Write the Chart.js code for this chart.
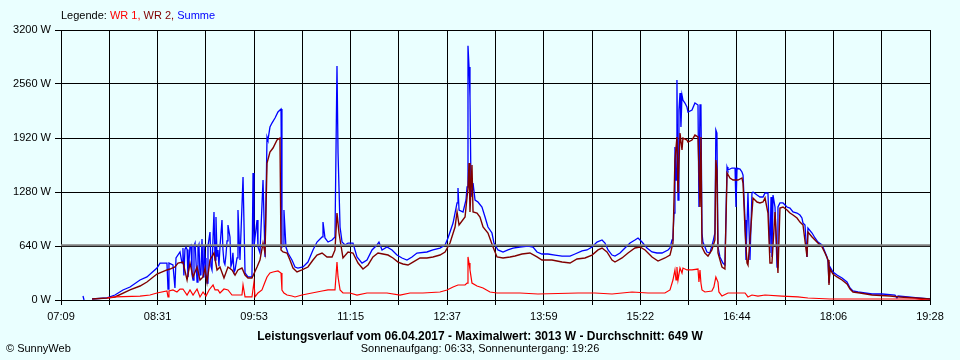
<!DOCTYPE html>
<html><head><meta charset="utf-8">
<script src="https://cdn.jsdelivr.net/npm/chart.js@4"></script>
<style>
html,body{margin:0;padding:0;background:#eaffff;}
#wrap{position:relative;width:960px;height:360px;background:#eaffff;font-family:"Liberation Sans",Arial,sans-serif;font-size:11px;color:#000;overflow:hidden;}
canvas{position:absolute;left:0;top:0;}
.t{position:absolute;white-space:nowrap;line-height:11px;}
</style></head><body>
<div id="wrap">
<canvas id="c" width="960" height="360"></canvas>
<div class="t" style="left:61px;top:10px;">Legende: <span style="color:#ff0000">WR 1,</span> <span style="color:#800000">WR 2,</span> <span style="color:#0000ff">Summe</span></div>
<div class="t" style="left:0;width:960px;text-align:center;top:330px;font-weight:bold;font-size:12px;line-height:12px;">Leistungsverlauf vom 06.04.2017 - Maximalwert: 3013 W - Durchschnitt: 649 W</div>
<div class="t" style="left:0;width:960px;text-align:center;top:343px;">Sonnenaufgang: 06:33, Sonnenuntergang: 19:26</div>
<div class="t" style="left:6px;top:343px;">© SunnyWeb</div>
</div>
<script>
// time axis: minutes since midnight (07:09 = 429, 19:28 = 1168)
const xLabels = ['07:09','08:31','09:53','11:15','12:37','13:59','15:22','16:44','18:06','19:28'];
const yLabels = ['0 W','640 W','1280 W','1920 W','2560 W','3200 W'];
const X_MIN = 429, X_MAX = 1168, Y_MAX = 3200;
const AVG = 649;

// [minute, W]
const summe = [[447.7,47],[448.6,0],[449.4,null],[455.4,12],[468.1,24],[474.9,59],[481.7,119],[487.7,154],[496.2,237],[502.1,273],[510.6,379],[513.2,438],[519.1,438],[520.0,130],[520.8,438],[524.2,415],[525.9,142],[526.8,498],[530.2,569],[531.9,438],[532.7,616],[533.5,290],[534.4,600],[535.3,628],[536.2,600],[537.0,273],[538.7,640],[539.6,652],[540.4,300],[541.3,237],[542.1,640],[543.0,675],[544.7,213],[545.5,628],[546.3,660],[547.2,296],[548.0,300],[548.9,723],[549.8,273],[550.6,650],[551.5,498],[552.3,300],[553.2,201],[554.0,640],[555.7,806],[556.5,400],[557.4,356],[558.2,700],[559.1,1043],[560.0,474],[560.8,984],[561.7,520],[562.5,593],[563.3,400],[564.2,628],[565.9,948],[566.7,600],[567.6,450],[568.4,420],[569.3,533],[570.2,700],[571.0,889],[572.7,747],[573.5,400],[574.4,438],[575.2,560],[576.1,330],[577.0,356],[578.7,500],[579.5,1067],[581.2,474],[583.8,1458],[585.5,320],[588.0,273],[591.4,273],[592.3,1505],[593.1,628],[595.7,948],[596.5,628],[598.2,557],[600.8,1422],[602.5,510],[604.2,1932],[605.0,1896],[606.7,2050],[608.4,2097],[611.0,2157],[613.5,2228],[616.1,2263],[616.9,628],[617.8,652],[618.6,1067],[620.3,628],[622.0,557],[625.4,474],[628.0,391],[630.5,379],[634.8,391],[639.0,450],[643.3,593],[646.7,687],[651.0,747],[651.8,924],[653.5,735],[656.1,687],[659.5,711],[662.0,747],[663.7,2773],[664.6,1742],[666.3,865],[668.0,687],[670.5,652],[673.1,675],[677.3,675],[680.7,510],[685.0,438],[689.2,474],[693.5,593],[697.7,652],[699.4,687],[702.0,593],[706.2,628],[710.5,593],[714.7,533],[719.0,498],[723.2,474],[727.5,510],[731.7,557],[740.2,569],[745.3,593],[751.3,616],[755.6,652],[758.1,735],[762.4,912],[765.8,1150],[766.6,1327],[767.5,1067],[770.9,1043],[773.4,1185],[774.3,1339],[775.1,3013],[776.0,2761],[776.8,2406],[777.7,1304],[778.5,1221],[779.4,1386],[781.1,1185],[783.6,1161],[787.0,1102],[789.6,984],[792.1,865],[795.5,794],[797.2,675],[800.6,593],[804.9,569],[809.1,593],[813.4,616],[819.3,628],[826.1,640],[830.4,628],[833.8,569],[838.0,545],[843.1,545],[849.1,533],[855.1,521],[861.9,521],[866.1,545],[872.1,581],[876.3,593],[880.6,628],[884.8,687],[889.1,711],[891.6,675],[894.2,593],[897.6,533],[900.1,521],[904.4,557],[908.6,616],[912.9,675],[917.1,711],[919.7,735],[923.1,687],[927.3,616],[931.6,569],[935.8,557],[940.1,557],[945.2,593],[946.9,616],[948.6,711],[949.4,747],[950.3,1031],[951.1,1813],[952.0,1422],[952.8,2607],[953.7,1185],[954.5,2252],[955.4,2453],[956.2,2050],[957.1,2429],[957.9,2370],[959.6,2334],[961.3,2287],[962.2,2228],[965.6,2252],[968.1,2334],[970.7,2311],[971.5,1102],[972.4,2311],[973.2,2311],[974.1,794],[974.9,687],[978.3,569],[980.8,557],[983.4,687],[985.1,794],[985.9,2015],[986.8,1979],[987.7,628],[989.4,510],[991.9,438],[993.6,415],[995.4,1576],[996.2,1541],[999.6,1564],[1002.2,1564],[1003.0,1102],[1003.9,1564],[1006.4,1552],[1008.1,1517],[1009.0,1481],[1010.7,948],[1011.5,474],[1013.2,1268],[1014.9,474],[1016.6,1268],[1017.5,1280],[1020.9,1244],[1023.4,1221],[1026.0,1221],[1027.7,1268],[1030.2,1268],[1031.9,557],[1032.8,1221],[1033.6,510],[1034.5,1244],[1036.2,1102],[1037.9,391],[1038.7,1102],[1040.4,1150],[1043.0,1150],[1046.4,1102],[1048.9,1090],[1051.5,1043],[1054.9,1031],[1057.4,1007],[1059.1,972],[1060.0,912],[1061.7,889],[1063.4,510],[1064.2,853],[1067.7,794],[1070.2,735],[1072.7,687],[1076.2,652],[1078.7,569],[1080.4,510],[1081.3,450],[1082.1,201],[1083.0,391],[1085.5,332],[1088.9,296],[1093.2,261],[1097.4,213],[1100.0,142],[1102.5,107],[1106.8,95],[1112.7,83],[1118.7,71],[1127.2,71],[1138.2,59],[1139.9,24],[1140.8,47],[1149.3,36],[1157.8,24],[1168.0,12]];

const wr2 = [[455.4,12],[468.1,24],[474.9,36],[487.7,119],[496.2,166],[502.1,213],[510.6,308],[519.1,356],[521.7,367],[525.9,391],[528.5,438],[532.7,450],[536.2,237],[538.7,438],[541.3,273],[544.7,391],[547.2,237],[549.8,273],[551.5,379],[553.2,213],[555.7,474],[559.1,557],[561.7,356],[564.2,391],[567.6,261],[571.0,391],[574.4,356],[577.0,296],[579.5,356],[582.9,379],[585.5,296],[588.0,261],[591.4,261],[595.7,391],[598.2,474],[600.8,675],[602.5,557],[604.2,1623],[606.7,1754],[609.3,1801],[612.7,1896],[615.2,1920],[616.1,593],[617.8,569],[621.2,557],[623.7,474],[626.3,379],[629.7,332],[633.9,356],[639.0,391],[643.3,474],[646.7,533],[651.0,557],[655.2,510],[659.5,510],[662.0,593],[663.7,1031],[665.4,794],[668.8,498],[673.1,569],[677.3,557],[681.6,438],[685.8,367],[690.1,415],[694.3,510],[698.6,557],[702.8,545],[707.1,533],[711.3,498],[715.6,450],[719.8,427],[724.1,415],[728.3,450],[734.3,498],[740.2,498],[745.3,510],[751.3,533],[755.6,569],[759.8,675],[764.1,865],[765.8,1043],[767.5,889],[772.6,984],[775.1,1327],[776.0,1623],[776.8,1043],[778.5,1600],[779.4,1043],[782.8,1031],[785.3,984],[787.9,865],[792.1,794],[796.4,628],[799.8,510],[804.9,498],[810.8,510],[815.1,521],[821.0,545],[827.8,557],[833.8,510],[838.0,474],[846.5,474],[855.1,450],[861.9,438],[867.8,486],[874.6,498],[880.6,533],[885.7,593],[889.1,616],[893.3,569],[897.6,474],[900.1,450],[906.1,498],[911.2,557],[917.1,616],[921.4,628],[925.7,593],[931.6,510],[936.7,462],[942.6,498],[946.9,533],[949.4,675],[951.1,1659],[952.8,1932],[953.7,1268],[955.4,1979],[957.1,1778],[957.9,1920],[961.3,1896],[962.2,1872],[965.6,1896],[968.1,1955],[970.7,1932],[972.4,1102],[973.2,1932],[974.1,628],[976.6,557],[979.2,521],[982.5,593],[985.1,711],[985.9,1659],[986.8,1541],[987.7,557],[991.1,391],[993.6,367],[995.4,1505],[997.9,1446],[1000.5,1422],[1004.7,1422],[1008.1,1446],[1009.0,1386],[1010.7,830],[1012.4,438],[1013.2,415],[1014.9,711],[1017.5,1209],[1020.9,1161],[1023.4,1150],[1026.0,1161],[1027.7,1209],[1030.2,1031],[1031.9,438],[1033.6,438],[1036.2,1043],[1038.7,320],[1040.4,1090],[1043.0,1102],[1046.4,1067],[1048.9,1031],[1051.5,1007],[1054.9,972],[1057.4,924],[1060.0,889],[1063.4,510],[1064.2,806],[1067.7,747],[1070.2,711],[1072.7,675],[1076.2,628],[1078.7,557],[1081.3,474],[1082.1,178],[1083.0,367],[1085.5,308],[1088.9,273],[1093.2,237],[1097.4,190],[1100.0,130],[1102.5,95],[1108.5,83],[1118.7,59],[1134.0,47],[1142.5,36],[1155.2,24],[1168.0,12]];

const wr1 = [[468.1,24],[474.9,36],[496.2,47],[504.7,59],[510.6,83],[519.1,107],[520.0,36],[520.8,107],[524.2,119],[527.6,95],[530.2,130],[532.7,130],[536.2,59],[538.7,119],[541.3,59],[544.7,130],[547.2,36],[549.8,95],[552.3,47],[554.9,119],[558.3,178],[560.0,119],[562.5,119],[564.2,83],[567.6,130],[571.0,119],[574.4,59],[582.9,59],[583.8,178],[585.5,36],[591.4,36],[593.1,213],[594.0,36],[596.5,83],[599.9,119],[602.5,213],[604.2,273],[606.7,320],[609.3,332],[613.5,344],[616.1,320],[616.9,119],[618.6,83],[621.2,59],[625.4,47],[628.0,36],[633.9,59],[642.4,83],[651.0,107],[656.1,119],[662.0,119],[663.7,450],[664.6,273],[666.3,119],[668.8,83],[674.8,83],[680.7,59],[689.2,83],[700.3,83],[706.2,83],[717.3,59],[725.8,83],[736.8,83],[751.3,95],[757.3,119],[762.4,154],[766.6,178],[772.6,178],[774.3,201],[775.1,510],[776.0,438],[776.8,356],[778.5,201],[782.8,166],[787.9,142],[793.8,95],[799.8,83],[819.3,83],[834.6,71],[868.7,83],[883.1,83],[897.6,71],[914.6,95],[928.2,83],[942.6,83],[946.9,119],[949.4,237],[951.1,356],[952.0,237],[952.8,391],[953.7,237],[955.4,379],[957.1,320],[957.9,379],[961.3,356],[965.6,356],[970.7,367],[971.5,213],[972.4,356],[973.2,201],[974.1,119],[976.6,95],[982.5,107],[984.2,154],[985.9,273],[987.7,213],[988.5,95],[991.1,47],[996.2,83],[1010.7,83],[1013.2,36],[1016.6,59],[1021.7,47],[1027.7,59],[1042.1,47],[1055.7,36],[1064.2,24],[1083.0,12],[1155.2,12],[1168.0,0]];

const toXY = arr => arr.map(([x,y]) => ({x, y}));
const font = {family:'"Liberation Sans", Arial, sans-serif', size:11};
const lineDs = (label, arr, color, width, order) => ({
  label, data: toXY(arr), borderColor: color, borderWidth: width, pointRadius: 0,
  tension: 0, spanGaps: false, fill: false, order
});

new Chart(document.getElementById('c'), {
  type: 'line',
  data: { datasets: [
    {label:'Durchschnitt', data:[{x:X_MIN,y:AVG},{x:X_MAX,y:AVG}], borderColor:'#808080', borderWidth:2, pointRadius:0, order:0},
    lineDs('WR 1', wr1, '#ff0000', 1.2, 1),
    lineDs('WR 2', wr2, '#800000', 1.4, 2),
    lineDs('Summe', summe, '#0000ff', 1.3, 3)
  ]},
  options: {
    responsive: false, animation: false, devicePixelRatio: 1,
    layout: { padding: {left:0, top:30, right:30, bottom:0} },
    plugins: { legend: {display:false}, tooltip: {enabled:false}, title:{display:false} },
    scales: {
      x: {
        type: 'linear', min: X_MIN, max: X_MAX,
        afterBuildTicks: s => {
          const n = (xLabels.length - 1) * 2;
          s.ticks = Array.from({length: n + 1}, (_, k) => ({value: X_MIN + k * (X_MAX - X_MIN) / n}));
        },
        afterFit: s => { s.height = 60; },
        ticks: { autoSkip:false, maxRotation:0, padding:5, color:'#000', font,
          callback: (v, i) => i % 2 === 0 ? xLabels[i/2] : '' },
        grid: { color:'#000', lineWidth:1, tickLength:5, drawTicks:true },
        border: { color:'#000', width:1 }
      },
      y: {
        min: 0, max: Y_MAX,
        afterBuildTicks: s => { s.ticks = yLabels.map((_, i) => ({value: i * Y_MAX / (yLabels.length - 1)})); },
        afterFit: s => { s.width = 61; },
        ticks: { padding:4, color:'#000', font, callback: (v, i) => yLabels[i] },
        grid: { color:'#000', lineWidth:1, tickLength:6, drawTicks:true },
        border: { color:'#000', width:1 }
      }
    }
  }
});
</script>
</body></html>
